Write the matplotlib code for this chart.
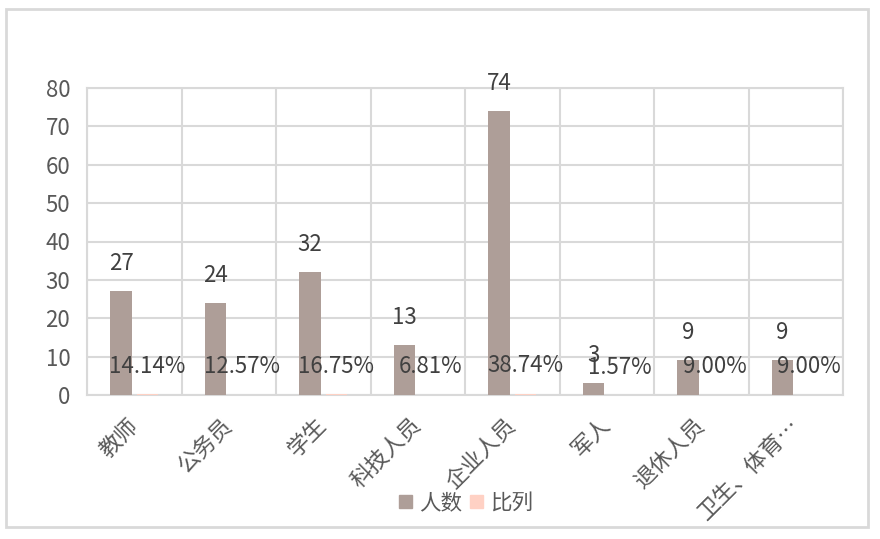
import matplotlib
matplotlib.use("Agg")
import matplotlib.pyplot as plt
from matplotlib.patches import Patch, Rectangle
from matplotlib.transforms import ScaledTranslation
import numpy as np

plt.rcParams['font.family'] = ['Noto Sans CJK SC', 'DejaVu Sans']

categories = ["教师", "公务员", "学生", "科技人员", "企业人员", "军人", "退休人员", "卫生、体育…"]
counts = [27, 24, 32, 13, 74, 3, 9, 9]
ratios = [0.1414, 0.1257, 0.1675, 0.0681, 0.3874, 0.0157, 0.0900, 0.0900]
ratio_labels = ["14.14%", "12.57%", "16.75%", "6.81%", "38.74%", "1.57%", "9.00%", "9.00%"]

BROWN = "#AE9E98"
PINK = "#FFD1C4"
GRID = "#D9D9D9"
TEXT = "#404040"

fig = plt.figure(figsize=(8.8, 5.39), dpi=100)
ax = fig.add_axes([87/880, 1-395/539, (843-87)/880, (395-88)/539])

x = np.arange(len(categories))
w = 0.23
off = 0.14
ax.bar(x - off, counts, w, color=BROWN, zorder=3)
ax.bar(x + off, ratios, w, color=PINK, zorder=3)

for xi, v in zip(x, counts):
    ax.annotate(str(v), (xi - off, v), xytext=(0, 20), textcoords="offset points",
                ha="center", va="center", fontsize=16, color=TEXT, zorder=4)
for xi, v, lab in zip(x, ratios, ratio_labels):
    ax.annotate(lab, (xi + off, v), xytext=(0, 20), textcoords="offset points",
                ha="center", va="center", fontsize=16, color=TEXT, zorder=4)

ax.set_xlim(-0.5, len(categories) - 0.5)
ax.set_ylim(0, 80)
ax.set_yticks(range(0, 81, 10))
ax.set_xticks(x)
ax.set_xticklabels(categories, rotation=45, ha="right", va="top", rotation_mode="anchor", fontsize=16)
ax.set_xticks(np.arange(len(categories) + 1) - 0.5, minor=True)
ax.tick_params(axis="both", which="both", length=0, labelcolor="#595959")
ax.tick_params(axis="y", labelsize=16, pad=12)
ax.tick_params(axis="x", pad=10)
# nudge rotated category labels a bit left/down like the original
shift = ScaledTranslation(-8/100, -5/100, fig.dpi_scale_trans)
for lbl in ax.get_xticklabels():
    lbl.set_transform(lbl.get_transform() + shift)
ax.grid(axis="y", color=GRID, linewidth=1.5, zorder=0)
ax.grid(axis="x", which="minor", color=GRID, linewidth=1.5, zorder=0)
for s in ax.spines.values():
    s.set_color(GRID)
    s.set_linewidth(1.5)

handles = [Patch(color=BROWN, label="人数"), Patch(color=PINK, label="比列")]
fig.legend(handles=handles, loc="center", bbox_to_anchor=(466/880, 1-503/539), ncol=2,
           frameon=False, fontsize=15.5, handlelength=0.6, handleheight=0.6,
           handletextpad=0.3, columnspacing=0.4, labelcolor="#595959")

fig.patches.append(Rectangle((6/880, 1-527/539), 862/880, 518/539, transform=fig.transFigure,
                             fill=False, edgecolor=GRID, linewidth=2))

fig.savefig("out.png", dpi=100, facecolor="white")
